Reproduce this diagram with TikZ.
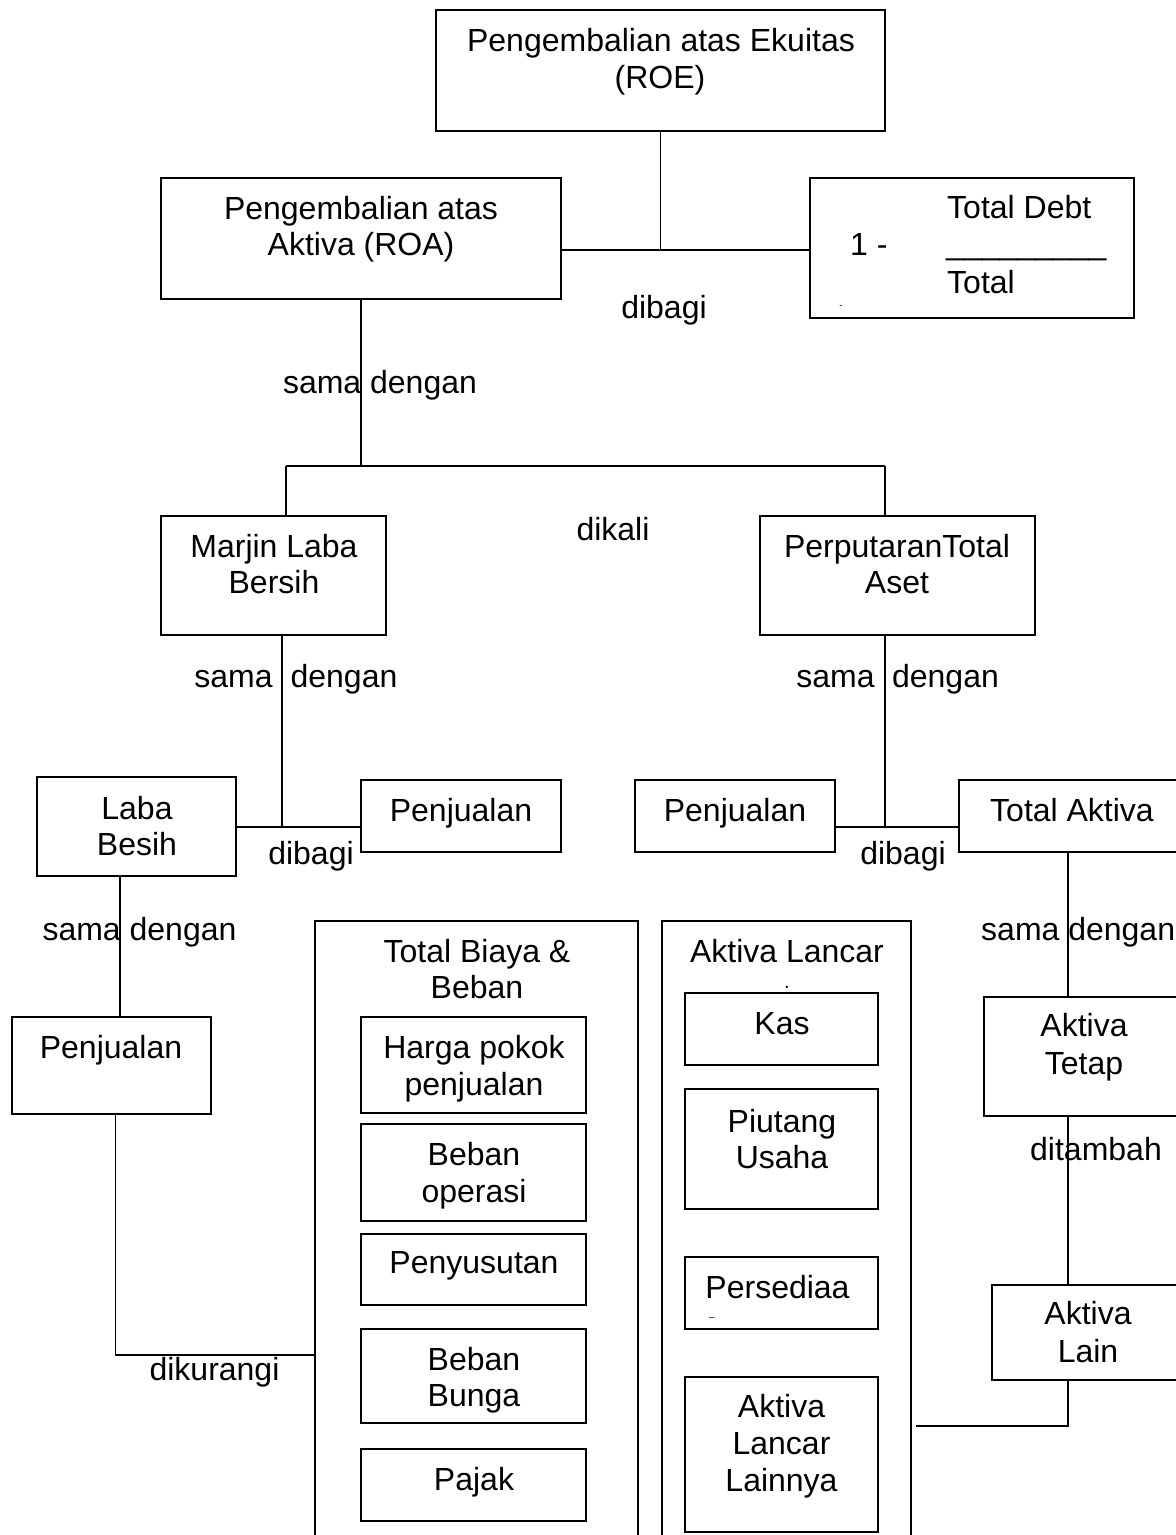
\documentclass[tikz,border=0pt]{standalone}
\usepackage{fontspec}
\setmainfont{Liberation Sans}
\newcommand{\fsz}{\fontsize{32}{37}\selectfont}
\begin{document}
\begin{tikzpicture}[x=1pt,y=-1pt,
  box/.style={draw, line width=1.8pt, inner sep=0pt, outer sep=0pt, anchor=north west},
  txt/.style={anchor=base, inner sep=0pt, font=\fsz},
  txtl/.style={anchor=base west, inner sep=0pt, font=\fsz},
  wire/.style={line width=1.8pt}]
\useasboundingbox (0,0) rectangle (1176,1535);
\clip (0,0) rectangle (1176,1535);
% boxes
\node[box, minimum width=449, minimum height=121] (roe) at (436,10) {};
\node[box, minimum width=400, minimum height=121] (roa) at (161,178) {};
\node[box, minimum width=324, minimum height=140] (debt) at (810,178) {};
\node[box, minimum width=225, minimum height=119] (marjin) at (161,516) {};
\node[box, minimum width=275, minimum height=119] (perp) at (760,516) {};
\node[box, minimum width=199, minimum height=99] (laba) at (37,777) {};
\node[box, minimum width=200, minimum height=72] (penj1) at (361,780) {};
\node[box, minimum width=200, minimum height=72] (penj2) at (635,780) {};
\node[box, minimum width=241, minimum height=72] (totakt) at (959,780) {};
\node[box, minimum width=199, minimum height=97] (penj3) at (12,1017) {};
\node[box, minimum width=323, minimum height=639] (biaya) at (315,921) {};
\node[box, minimum width=225, minimum height=96] (hpp) at (361,1017) {};
\node[box, minimum width=225, minimum height=97] (bop) at (361,1124) {};
\node[box, minimum width=225, minimum height=71] (susut) at (361,1234) {};
\node[box, minimum width=225, minimum height=94] (bunga) at (361,1329) {};
\node[box, minimum width=225, minimum height=72] (pajak) at (361,1449) {};
\node[box, minimum width=249, minimum height=639] (lancar) at (662,921) {};
\node[box, minimum width=193, minimum height=72] (kas) at (685,993) {};
\node[box, minimum width=193, minimum height=120] (piut) at (685,1089) {};
\node[box, minimum width=193, minimum height=72] (sedia) at (685,1257) {};
\node[box, minimum width=193, minimum height=155] (lainnya) at (685,1377) {};
\node[box, minimum width=216, minimum height=119] (tetap) at (984,997) {};
\node[box, minimum width=208, minimum height=95] (alain) at (992,1285) {};
% junction coordinates
\coordinate (j1) at (660,250);
\coordinate (j2) at (361,466);
\coordinate (j2l) at (286,466);
\coordinate (j2r) at (885,466);
\coordinate (j3) at (282,827);
\coordinate (j4) at (885,827);
\coordinate (c5) at (120,900);
\coordinate (j6) at (115.5,1355);
\coordinate (c7) at (1068,900);
\coordinate (j8) at (1068,1426);
\coordinate (j8e) at (916,1426);
% connectors
\draw[wire] (roe.south) -- (roe.south |- j1);
\draw[wire] (roa.east |- j1) -- (debt.west |- j1);
\draw[wire] (roa.south) -- (roa.south |- j2);
\draw[wire] (j2l) -- (j2r);
\draw[wire] (j2l) -- (j2l |- marjin.north);
\draw[wire] (j2r) -- (j2r |- perp.north);
\draw[wire] (j3 |- marjin.south) -- (j3);
\draw[wire] (laba.east |- j3) -- (penj1.west |- j3);
\draw[wire] (j4 |- perp.south) -- (j4);
\draw[wire] (penj2.east |- j4) -- (totakt.west |- j4);
\draw[wire] (c5 |- laba.south) -- (c5 |- penj3.north);
\draw[wire] (j6 |- penj3.south) -- (j6) -- (biaya.west |- j6);
\draw[wire] (c7 |- totakt.south) -- (c7 |- tetap.north);
\draw[wire] (c7 |- tetap.south) -- (c7 |- alain.north);
\draw[wire] (c7 |- alain.south) -- (j8) -- (j8e);
% texts
\node[txt] (t1) at (661,51) {Pengembalian atas Ekuitas};
\node[txt] (t2) at (660,88) {(ROE)};
\node[txt] (t3) at (361,219) {Pengembalian atas};
\node[txt] (t4) at (361,255) {Aktiva (ROA)};
\node[txtl] (t5) at (947,218) {Total Debt};
\node[txtl] (t6) at (850,255) {1 -};
\node[txtl] (t7) at (946,254) {\_\_\_\_\_\_\_\_\_};
\node[txtl] (t8) at (947,293) {Total};
\node[anchor=base, inner sep=0pt, font=\fontsize{10}{12}\selectfont] (t9) at (841,308) {-};
\node[txt] (t10) at (664,318) {dibagi};
\node[txt] (t11) at (380,393) {sama dengan};
\node[txt] (t12) at (613,540) {dikali};
\node[txt] (t13) at (274,557) {Marjin Laba};
\node[txt] (t14) at (274,593) {Bersih};
\node[txt] (t15) at (897,557) {PerputaranTotal};
\node[txt] (t16) at (897,593) {Aset};
\node[txt] (t17) at (233.5,687) {sama};
\node[txt] (t18) at (344,687) {dengan};
\node[txt] (t19) at (835.5,687) {sama};
\node[txt] (t20) at (945.5,687) {dengan};
\node[txt] (t21) at (137,819) {Laba};
\node[txt] (t22) at (137,855) {Besih};
\node[txt] (t23) at (461,821) {Penjualan};
\node[txt] (t24) at (735,821) {Penjualan};
\node[txt] (t25) at (1072,821) {Total Aktiva};
\node[txt] (t26) at (311,864) {dibagi};
\node[txt] (t27) at (903,864) {dibagi};
\node[txt] (t28) at (139.5,940) {sama dengan};
\node[txtl] (t29) at (981,940) {sama dengan};
\node[txt] (t30) at (111,1058) {Penjualan};
\node[txt] (t31) at (214.5,1380) {dikurangi};
\node[txt] (t32) at (477,962.5) {Total Biaya \&};
\node[txt] (t33) at (477,998.5) {Beban};
\node[txt] (t34) at (474,1058) {Harga pokok};
\node[txt] (t35) at (474,1095) {penjualan};
\node[txt] (t36) at (474,1165) {Beban};
\node[txt] (t37) at (474,1202) {operasi};
\node[txt] (t38) at (474,1273.6) {Penyusutan};
\node[txt] (t39) at (474,1370.6) {Beban};
\node[txt] (t40) at (474,1406.5) {Bunga};
\node[txt] (t41) at (474,1490.5) {Pajak};
\node[txt] (t42) at (787,962.5) {Aktiva Lancar};
\node[anchor=base, inner sep=0pt, font=\fontsize{20}{22}\selectfont] (t43) at (787,988) {.};
\node[txt] (t44) at (782,1034) {Kas};
\node[txt] (t45) at (782,1132) {Piutang};
\node[txt] (t46) at (782,1168) {Usaha};
\node[txt] (t47) at (777.5,1298) {Persediaa};
\node[anchor=base, inner sep=0pt, font=\fontsize{10}{12}\selectfont] (t48) at (712,1320) {--};
\node[txt] (t49) at (781.5,1417) {Aktiva};
\node[txt] (t50) at (781.5,1454.5) {Lancar};
\node[txt] (t51) at (781.5,1491.6) {Lainnya};
\node[txt] (t52) at (1084,1036.7) {Aktiva};
\node[txt] (t53) at (1084,1074) {Tetap};
\node[txt] (t54) at (1096,1160.5) {ditambah};
\node[txt] (t55) at (1088,1324) {Aktiva};
\node[txt] (t56) at (1088,1362) {Lain};
\end{tikzpicture}
\end{document}
